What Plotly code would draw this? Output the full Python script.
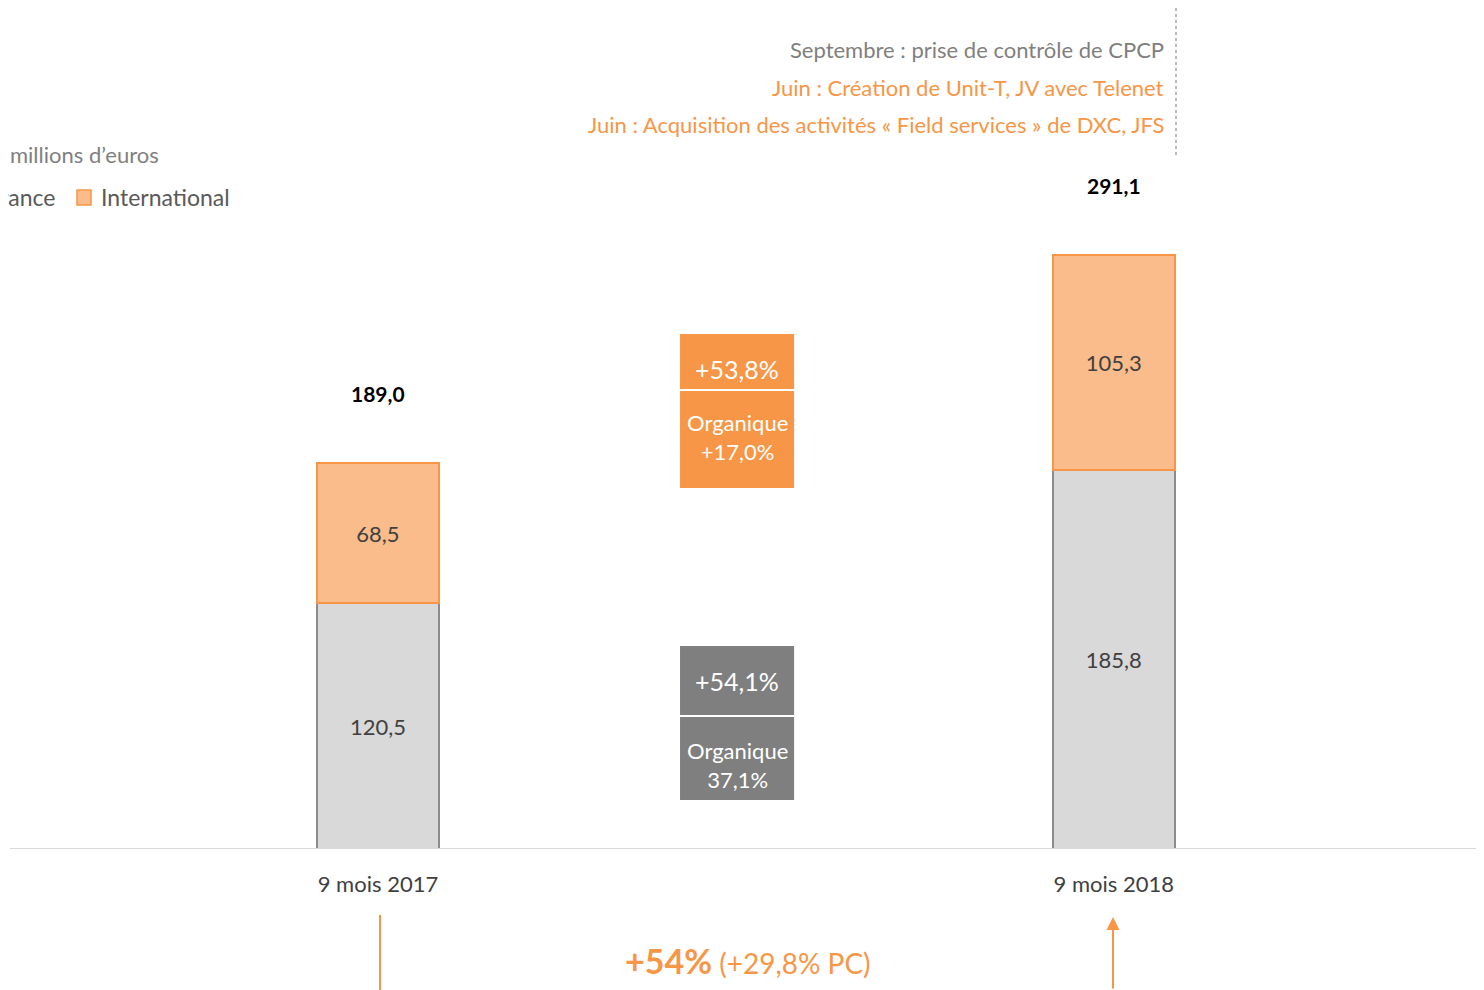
import plotly.graph_objects as go

periods = ["9 mois 2017", "9 mois 2018"]
france = [120.5, 185.8]
international = [68.5, 105.3]
totals = [a + b for a, b in zip(france, international)]
series_names = ["France", "International"]

intl_growth = ["+53,8%", "Organique<br>+17,0%"]
france_growth = ["+54,1%", "Organique<br>37,1%"]
events = [
    ("Septembre : prise de contrôle de CPCP", "#7F7F7F"),
    ("Juin : Création de Unit-T, JV avec Telenet", "#F79646"),
    ("Juin : Acquisition des activités « Field services » de DXC, JFS", "#F79646"),
]

FONT = "Lato, Liberation Sans Narrow, sans-serif"
ORANGE = "#F79646"
LIGHT_ORANGE = "#F9BC8A"
LIGHT_GRAY = "#D9D9D9"
OFF = 8  # page body margin
W, H = 1484 - OFF, 990 - OFF
BASE = 849 - OFF
ML, MR, MT, MB = 10 - OFF, 0, 0, H - BASE
PW, PH = W - ML - MR, H - MT - MB
SCALE = 2.04
YMAX = PH / SCALE


def px(x):
    return (x - OFF - ML) / PW


def py(y):
    return (BASE - (y - OFF)) / PH


def dy(y):
    return (BASE - (y - OFF)) / SCALE


xs = [0, 1]
fig = go.Figure()
fig.add_trace(go.Bar(
    x=xs, y=france, name=series_names[0], width=0.166,
    marker=dict(color=LIGHT_GRAY, line=dict(color="#8C8C8C", width=2)),
    texttemplate="%{y:.1f}", textposition="inside", insidetextanchor="middle",
    textfont=dict(family=FONT, size=22, color="#404040"),
))
fig.add_trace(go.Bar(
    x=xs, y=international, name=series_names[1], width=0.166,
    marker=dict(color=LIGHT_ORANGE, line=dict(color=ORANGE, width=2)),
    texttemplate="%{y:.1f}", textposition="inside", insidetextanchor="middle",
    textfont=dict(family=FONT, size=22, color="#404040"),
))

annotations = []
for x, t in zip(xs, totals):
    annotations.append(dict(
        x=x, y=t, xref="x", yref="y", yshift=70, showarrow=False,
        text=f"<b>{t:.1f}</b>".replace(".", ","),
        font=dict(family=FONT, size=21, color="#000000"),
    ))

# middle growth boxes
mx, mw = 0.488, 0.155
shapes = []
boxes = [
    (dy(334), dy(390), dy(488), ORANGE, intl_growth, dy(369), dy(436.5)),
    (dy(646), dy(716), dy(800), "#7F7F7F", france_growth, dy(681), dy(764.5)),
]
for top, sep, bot, col, texts, y1, y2 in boxes:
    shapes.append(dict(type="rect", xref="x", yref="y", x0=mx - mw / 2, x1=mx + mw / 2,
                       y0=bot, y1=top, fillcolor=col, line=dict(width=0), layer="above"))
    shapes.append(dict(type="line", xref="x", yref="y", x0=mx - mw / 2, x1=mx + mw / 2,
                       y0=sep, y1=sep, line=dict(color="white", width=2), layer="above"))
    annotations.append(dict(x=mx, y=y1, xref="x", yref="y", showarrow=False, text=texts[0],
                            font=dict(family=FONT, size=25, color="white")))
    annotations.append(dict(x=mx, y=y2, xref="x", yref="y", showarrow=False, text=texts[1],
                            font=dict(family=FONT, size=22, color="white")))

# events text
for (txt, col), yy in zip(events, [49, 87, 125]):
    annotations.append(dict(x=px(1166), y=py(yy), xref="paper", yref="paper",
                            xanchor="right", yanchor="middle",
                            showarrow=False, text=txt, font=dict(family=FONT, size=22, color=col)))
shapes.append(dict(type="line", xref="paper", yref="paper", x0=px(1176), x1=px(1176),
                   y0=py(8), y1=py(155), line=dict(color="#A6A6A6", width=1.5, dash="dot")))

annotations.append(dict(x=px(8), y=py(155), xref="paper", yref="paper",
                        xanchor="left", yanchor="middle",
                        showarrow=False, text="millions d’euros",
                        font=dict(family=FONT, size=22, color="#7F7F7F")))

# manual legend
annotations.append(dict(x=px(57), y=py(197), xref="paper", yref="paper", xanchor="right",
                        yanchor="middle", showarrow=False, text=series_names[0],
                        font=dict(family=FONT, size=23, color="#595959")))
annotations.append(dict(x=px(99), y=py(197), xref="paper", yref="paper", xanchor="left",
                        yanchor="middle", showarrow=False, text=series_names[1],
                        font=dict(family=FONT, size=23, color="#595959")))
shapes.append(dict(type="rect", xref="paper", yref="paper", x0=px(77), x1=px(91),
                   y0=py(205), y1=py(190), fillcolor=LIGHT_ORANGE,
                   line=dict(color=ORANGE, width=1.5)))

# bottom growth
shapes.append(dict(type="line", xref="paper", yref="paper", x0=px(380), x1=px(380),
                   y0=py(915), y1=py(990), line=dict(color=ORANGE, width=2)))
annotations.append(dict(x=px(1113), y=py(917), xref="paper", yref="paper", ax=0, ay=73,
                        axref="pixel", ayref="pixel", showarrow=True, arrowhead=2,
                        arrowsize=1.3, arrowwidth=2, arrowcolor=ORANGE, text=""))
annotations.append(dict(x=px(748), y=py(960), xref="paper", yref="paper", showarrow=False,
                        xanchor="center", yanchor="middle",
                        text='<span style="font-size:34px;font-weight:bold">+54%</span> (+29,8% PC)',
                        font=dict(family=FONT, size=28, color=ORANGE)))

fig.update_layout(
    width=W, height=H, barmode="stack", separators=", ",
    margin=dict(l=ML, r=MR, t=MT, b=MB, autoexpand=False),
    plot_bgcolor="white", paper_bgcolor="white",
    font=dict(family=FONT),
    showlegend=False,
    xaxis=dict(range=[-0.5, 1.503], tickvals=xs, ticktext=periods, showgrid=False,
               zeroline=False, showline=False, ticks="", ticklabelstandoff=20,
               tickfont=dict(family=FONT, size=22, color="#404040")),
    yaxis=dict(range=[0, YMAX], visible=False, showgrid=False, zeroline=False),
    shapes=shapes + [dict(type="line", xref="paper", yref="y", x0=0, x1=1, y0=0, y1=0,
                          line=dict(color=LIGHT_GRAY, width=2), layer="above")],
    annotations=annotations,
)
fig.write_html("out.html")
